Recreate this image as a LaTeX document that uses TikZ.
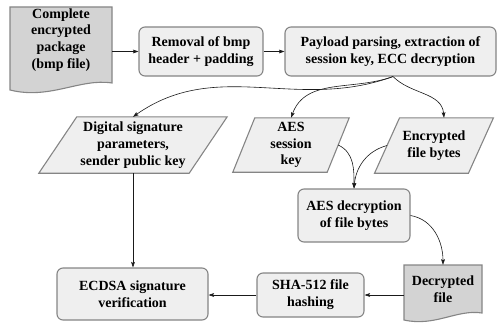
\documentclass[tikz,border=0pt]{standalone}
\usepackage{fontspec}
\setmainfont{Liberation Serif}
\usetikzlibrary{arrows.meta,calc,backgrounds}

\definecolor{boxfill}{HTML}{EFEFEF}
\definecolor{docfill}{HTML}{D3D3D3}
\definecolor{boxedge}{HTML}{858585}
\definecolor{linkcol}{HTML}{1A1A1A}

\begin{document}
\begin{tikzpicture}[x=1pt,y=1pt,
  every node/.style={align=center, inner sep=0pt,
    font=\fontsize{14}{16.8}\selectfont\bfseries},
  procbox/.style={draw=boxedge, fill=boxfill, rounded corners=6pt, line width=1.1pt},
  docshape/.style={draw=boxedge, fill=docfill, line width=1.1pt},
  iobox/.style={draw=boxedge, fill=boxfill, line width=1.1pt},
  link/.style={draw=linkcol, line width=0.6pt,
    -{Stealth[length=5.5pt,width=3.8pt,inset=1pt]}},
]
\useasboundingbox (0,0) rectangle (497,322);

% ---- process boxes ----
\node[procbox, minimum width=124pt, minimum height=49pt] (rm) at (201,270.5)
  {Removal of bmp\\header + padding};
\node[procbox, minimum width=211pt, minimum height=49pt] (pp) at (390.5,270.5)
  {Payload parsing, extraction of\\session key, ECC decryption};
\node[procbox, minimum width=112pt, minimum height=53pt] (aesd) at (354,106.5)
  {AES decryption\\of file bytes};
\node[procbox, minimum width=107pt, minimum height=44pt] (sha) at (310.5,27)
  {SHA-512 file\\hashing};
\node[procbox, minimum width=151pt, minimum height=52pt] (ecdsa) at (132.5,28)
  {ECDSA signature\\verification};

% ---- documents (text nodes; outlines drawn behind) ----
\node[minimum width=102pt, minimum height=66pt] (d1) at (61,282)
  {Complete\\encrypted\\package\\(bmp file)};
\node[minimum width=78pt, minimum height=48pt] (d2) at (443,33)
  {Decrypted\\file};

% ---- data (parallelograms; outlines drawn behind) ----
\node[minimum width=150pt, minimum height=56pt] (ds) at (133,177)
  {Digital signature\\parameters,\\sender public key};
\node[minimum width=94pt, minimum height=54pt] (aesk) at (291,177)
  {AES\\session\\key};
\node[minimum width=93.5pt, minimum height=55pt] (efb) at (434,176.5)
  {Encrypted\\file bytes};

\begin{scope}[on background layer]
  \begin{scope}[shift={(d1.center)}]
    \path[docshape] (-51,33) -- (51,33) -- (51,-43)
      .. controls (19,-38) and (-11,-60) .. (-51,-50) -- cycle;
  \end{scope}
  \begin{scope}[shift={(d2.center)}]
    \path[docshape] (-39,24) -- (39,24) -- (39,-24)
      .. controls (14,-20) and (-8,-38) .. (-39,-31) -- cycle;
  \end{scope}
  \path[iobox] ([xshift=19pt]ds.north west) -- ([xshift=19pt]ds.north east)
    -- ([xshift=-19pt]ds.south east) -- ([xshift=-19pt]ds.south west) -- cycle;
  \path[iobox] ([xshift=11pt]aesk.north west) -- ([xshift=11pt]aesk.north east)
    -- ([xshift=-11pt]aesk.south east) -- ([xshift=-11pt]aesk.south west) -- cycle;
  \path[iobox] ([xshift=12.5pt]efb.north west) -- ([xshift=12.5pt]efb.north east)
    -- ([xshift=-12.5pt]efb.south east) -- ([xshift=-12.5pt]efb.south west) -- cycle;
\end{scope}

% ---- connectors ----
\draw[link] (rm.west -| d1.east) -- (rm.west);
\draw[link] (rm.east) -- (pp.west);
\coordinate (fork) at ([xshift=2.5pt]pp.south);
\draw[link] (fork) to[out=200, in=35] (ds.north);
\draw[link] (fork) to[out=200, in=70] (aesk.north);
\draw[link] (fork) to[out=-45, in=95] ([xshift=10pt]efb.north);
\draw[link] (aesk.east) to[out=-25, in=90] (aesd.north);
\draw[link] (efb.west) to[out=195, in=85] (aesd.north);
\draw[link] (aesd.east) to[out=-10, in=90] (d2.north);
\draw[link] (ds.south) -- (ds.south |- ecdsa.north);
\draw[link] (sha.east -| d2.west) -- (sha.east);
\draw[link] (sha.west) -- (sha.west -| ecdsa.east);
\end{tikzpicture}
\end{document}
